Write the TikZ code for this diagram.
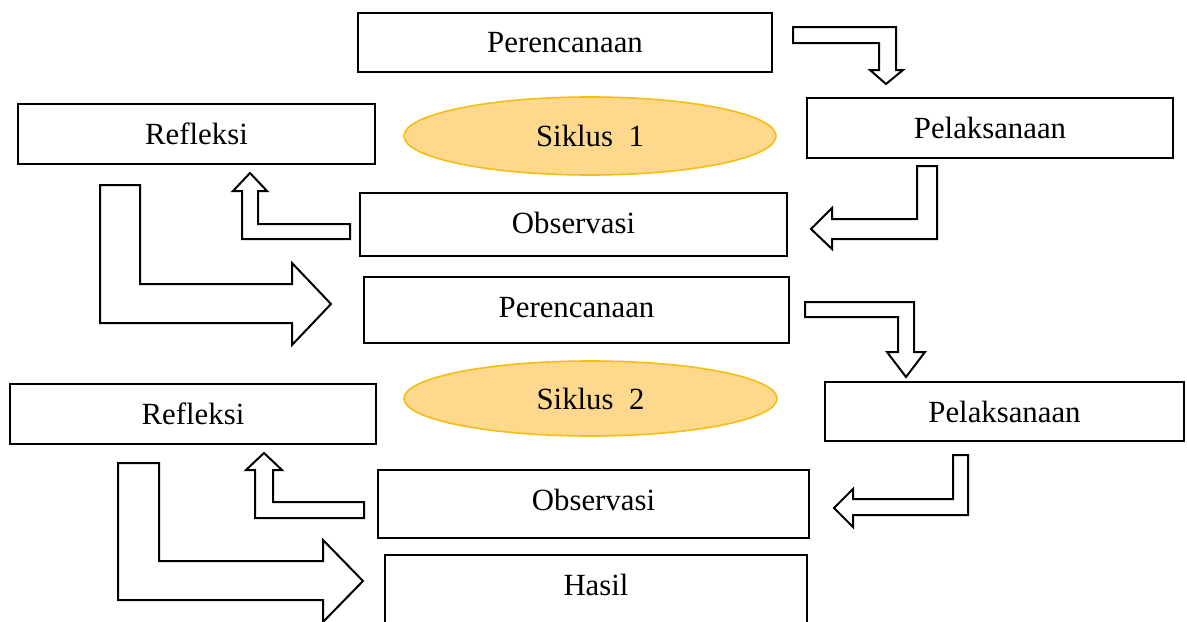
\documentclass[tikz,border=0pt]{standalone}
\usepackage{fontspec}
\setmainfont{Liberation Serif}
\usetikzlibrary{shapes.geometric}
\definecolor{ellfill}{RGB}{254,216,140}
\definecolor{elldraw}{RGB}{244,190,20}
\tikzset{
  box/.style={draw=black, line width=1pt, fill=white, rectangle, inner sep=0pt,
    font=\fontsize{15.4}{18}\selectfont},
  cyc/.style={draw=elldraw, line width=0.8pt, fill=ellfill, ellipse, inner sep=0pt,
    font=\fontsize{15.4}{18}\selectfont},
  barrow/.style={draw=black, line width=1pt, fill=white, line join=miter}
}
\begin{document}
\begin{tikzpicture}[x=0.5pt,y=-0.5pt]
\useasboundingbox (0,0) rectangle (1187,621);
\clip (0,0) rectangle (1187,621);
\fill[white] (0,0) rectangle (1187,621);
% cycle 1
\node[box, minimum width=207pt, minimum height=29.5pt] (per1) at (565,42.5) {Perencanaan};
\node[box, minimum width=183pt, minimum height=30pt] (pel1) at (990,128) {Pelaksanaan};
\node[box, minimum width=178.5pt, minimum height=30pt] (ref1) at (196.5,134) {Refleksi};
\node[cyc, minimum width=186pt, minimum height=39pt] (sik1) at (590,136) {Siklus~~1};
\node[box, minimum width=213.5pt, minimum height=31.5pt] (obs1) at (573.5,224.5) {\raisebox{2pt}{Observasi}};
% cycle 2
\node[box, minimum width=212.5pt, minimum height=33pt] (per2) at (576.5,310) {\raisebox{3pt}{Perencanaan}};
\node[cyc, minimum width=186.5pt, minimum height=37.5pt] (sik2) at (590.5,398.5) {Siklus~~2};
\node[box, minimum width=183pt, minimum height=30pt] (ref2) at (193,414) {Refleksi};
\node[box, minimum width=179.5pt, minimum height=29.5pt] (pel2) at (1004.5,411.5) {Pelaksanaan};
\node[box, minimum width=215.5pt, minimum height=34pt] (obs2) at (593.5,504) {\raisebox{4pt}{Observasi}};
\node[box, minimum width=211pt, minimum height=35pt] (has) at (596,590) {\raisebox{5pt}{Hasil}};
% block arrows
\draw[barrow] (793,27) -- (896,27) -- (896,70) -- (903,70) -- (886,84) -- (870,70) -- (879,70) -- (879,43) -- (793,43) -- cycle;
\draw[barrow] (917,166) -- (937,166) -- (937,239) -- (832,239) -- (832,249) -- (811,229) -- (832,208) -- (832,219) -- (917,219) -- cycle;
\draw[barrow] (350,224) -- (258,224) -- (258,191) -- (267,191) -- (250,173) -- (233,191) -- (242,191) -- (242,239) -- (350,239) -- cycle;
\draw[barrow] (100,185) -- (140,185) -- (140,284) -- (292,284) -- (292,263) -- (331,304) -- (292,345) -- (292,323) -- (100,323) -- cycle;
\draw[barrow] (805,302) -- (914,302) -- (914,352) -- (925,352) -- (906,377) -- (887,352) -- (898,352) -- (898,317) -- (805,317) -- cycle;
\draw[barrow] (953,455) -- (968,455) -- (968,515) -- (853,515) -- (853,527) -- (834,508) -- (853,489) -- (853,499) -- (953,499) -- cycle;
\draw[barrow] (364,502) -- (273,502) -- (273,470) -- (282,470) -- (264,453) -- (246,470) -- (255,470) -- (255,518) -- (364,518) -- cycle;
\draw[barrow] (118,463) -- (159,463) -- (159,561) -- (323,561) -- (323,540) -- (363,581) -- (323,622) -- (323,600) -- (118,600) -- cycle;
\end{tikzpicture}
\end{document}
